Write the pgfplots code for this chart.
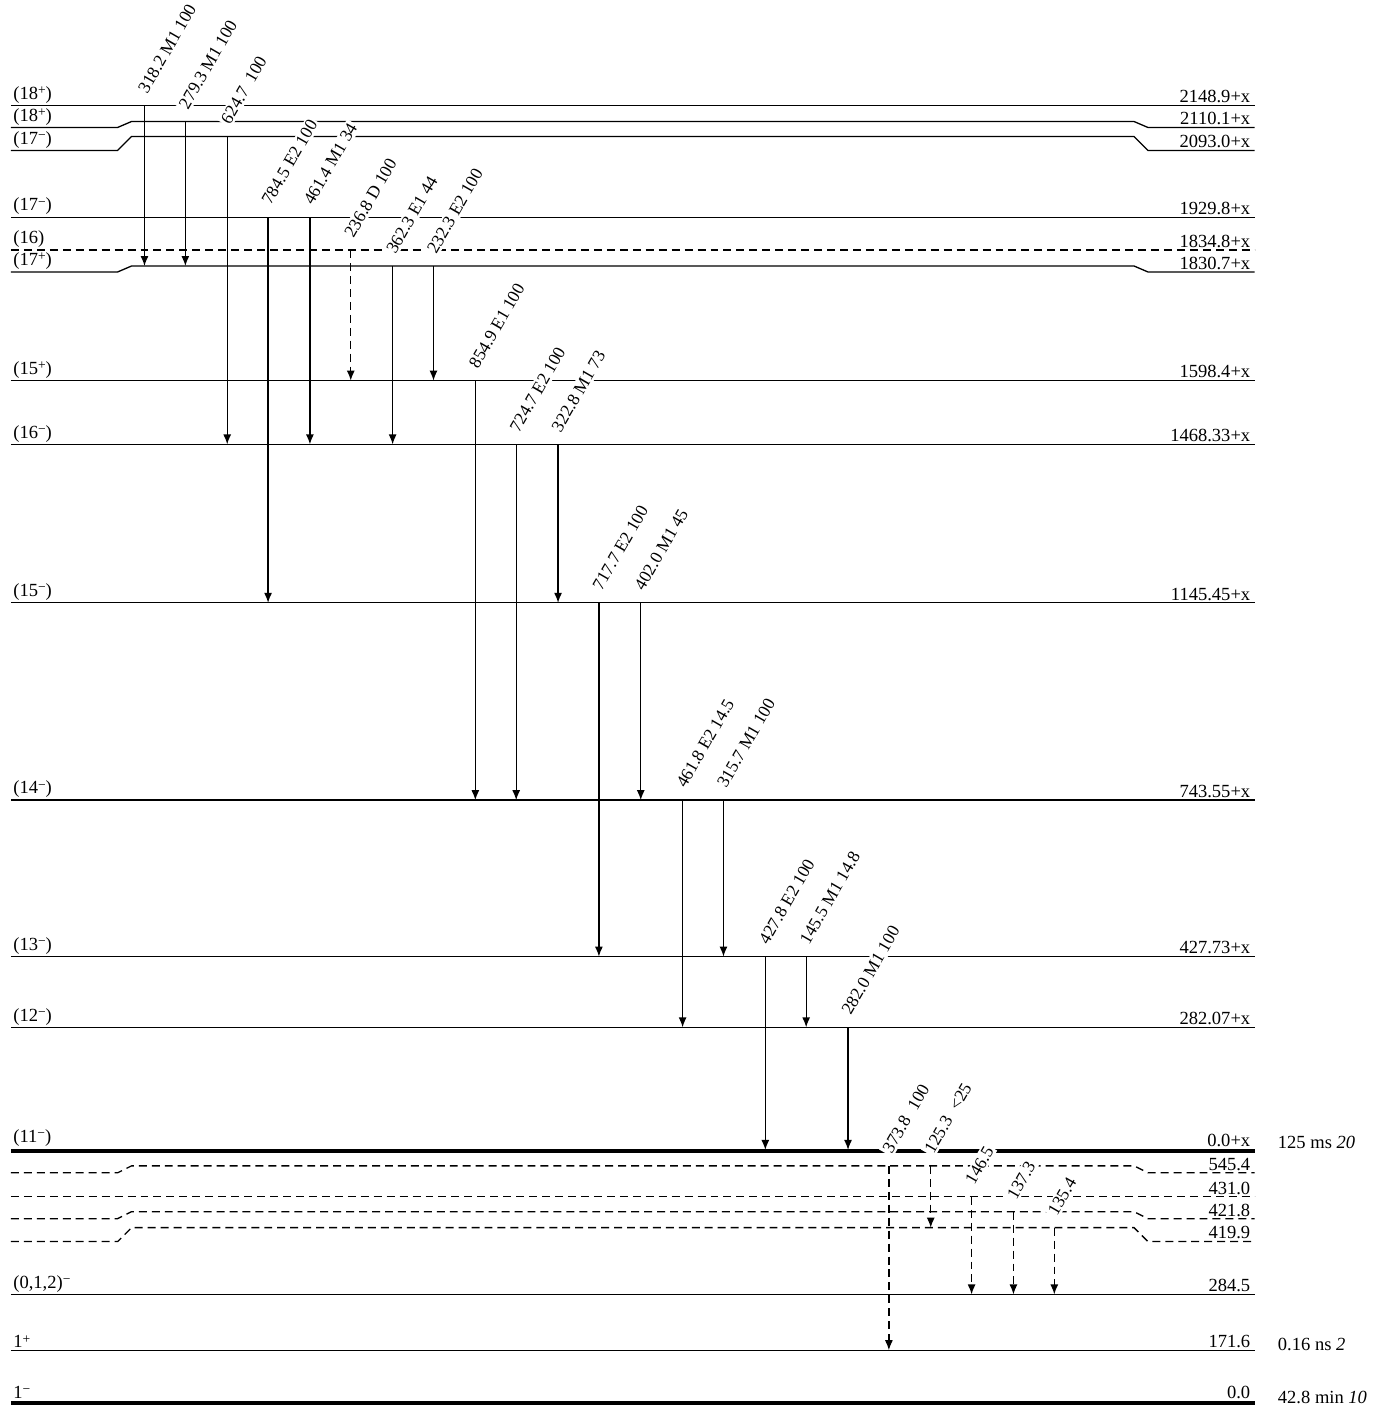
\documentclass[border=0pt]{standalone}
\usepackage{fontspec}
\setmainfont{Liberation Serif}
\usepackage{pgfplots}
\pgfplotsset{compat=1.18}
\usetikzlibrary{arrows.meta}
\newcommand{\lfont}{\fontsize{9.3}{11}\selectfont}
\newcommand{\gfont}{\fontsize{8.8}{10}\selectfont}
\newcommand{\ssup}[1]{\raisebox{0.55ex}{\fontsize{6.8}{7}\selectfont #1}}
% level with kinks: left y, mid y, right y
\newcommand{\levk}[4][]{\addplot[#1] coordinates {(11,#2) (118,#2) (132,#3) (1138,#3) (1152,#4) (1259,#4)};}
\newcommand{\lev}[2][]{\addplot[#1] coordinates {(11,#2) (1259,#2)};}
\newcommand{\rlab}[2]{\node[anchor=south east, inner sep=1pt, font=\lfont] at (1257,#1) {#2};}
\newcommand{\llab}[2]{\node[anchor=south west, inner sep=1pt, font=\lfont] at (11,#1) {#2};}
\newcommand{\glab}[3]{\node[rotate=60, anchor=south west, fill=white, inner sep=1pt, font=\gfont] at (#1+4,#2-8) {#3};}
\newcommand{\garr}[4][]{\addplot[#1, -{Latex[length=5pt,width=4pt]}] coordinates {(#2,#3) (#2,#4)};}
\begin{document}
\begin{tikzpicture}
\begin{axis}[
  scale only axis, width=695pt, height=703pt,
  xmin=0, xmax=1390, ymin=0, ymax=1406, y dir=reverse,
  hide axis, clip=false,
  every axis plot/.append style={line width=0.65pt, black},
]
\addplot[draw=none] coordinates {(0,0) (1390,1406)};
% levels
\lev{101}
\levk{123}{117}{123}
\levk{146}{132}{146}
\lev{213}
\lev[dash pattern=on 4pt off 2.5pt]{246}
\levk{268}{262}{268}
\lev{377}
\lev{441}
\lev{600}
\lev{798}
\lev{955}
\lev{1026}
\lev[line width=1.6pt]{1150}
\levk[dash pattern=on 4pt off 2.5pt]{1172}{1165}{1172}
\lev[dash pattern=on 4pt off 2.5pt]{1196}
\levk[dash pattern=on 4pt off 2.5pt]{1218}{1211}{1218}
\levk[dash pattern=on 4pt off 2.5pt]{1241}{1227}{1241}
\lev{1294}
\lev{1350}
\lev[line width=2.2pt]{1403}
% left labels
\llab{101}{(18\ssup{+})}
\llab{123}{(18\ssup{+})}
\llab{146}{(17\ssup{−})}
\llab{213}{(17\ssup{−})}
\llab{246}{(16)}
\llab{268}{(17\ssup{+})}
\llab{377}{(15\ssup{+})}
\llab{441}{(16\ssup{−})}
\llab{600}{(15\ssup{−})}
\llab{798}{(14\ssup{−})}
\llab{955}{(13\ssup{−})}
\llab{1026}{(12\ssup{−})}
\llab{1148}{(11\ssup{−})}
\llab{1294}{(0,1,2)\ssup{−}}
\llab{1350}{1\ssup{+}}
\llab{1401}{1\ssup{−}}
% right labels
\rlab{101}{2148.9+x}
\rlab{123}{2110.1+x}
\rlab{146}{2093.0+x}
\rlab{213}{1929.8+x}
\rlab{246}{1834.8+x}
\rlab{268}{1830.7+x}
\rlab{377}{1598.4+x}
\rlab{441}{1468.33+x}
\rlab{600}{1145.45+x}
\rlab{798}{743.55+x}
\rlab{955}{427.73+x}
\rlab{1026}{282.07+x}
\rlab{1148}{0.0+x}
\rlab{1172}{545.4}
\rlab{1196}{431.0}
\rlab{1218}{421.8}
\rlab{1241}{419.9}
\rlab{1294}{284.5}
\rlab{1350}{171.6}
\rlab{1401}{0.0}
% half-lives
\node[anchor=base west, inner sep=0pt, font=\lfont] at (1282,1148) {125 ms \textit{20}};
\node[anchor=base west, inner sep=0pt, font=\lfont] at (1282,1350) {0.16 ns \textit{2}};
\node[anchor=base west, inner sep=0pt, font=\lfont] at (1282,1403) {42.8 min \textit{10}};
% gamma labels
\glab{145}{101}{318.2 M1 100}
\glab{186}{117}{279.3 M1 100}
\glab{228}{132}{624.7\hspace{0.5em}100}
\glab{269}{213}{784.5 E2 100}
\glab{311}{213}{461.4 M1 34}
\glab{352}{246}{236.8 D 100}
\glab{394}{262}{362.3 E1 44}
\glab{435}{262}{232.3 E2 100}
\glab{477}{377}{854.9 E1 100}
\glab{518}{441}{724.7 E2 100}
\glab{560}{441}{322.8 M1 73}
\glab{601}{600}{717.7 E2 100}
\glab{643}{600}{402.0 M1 45}
\glab{685}{798}{461.8 E2 14.5}
\glab{726}{798}{315.7 M1 100}
\glab{768}{955}{427.8 E2 100}
\glab{809}{955}{145.5 M1 14.8}
\glab{851}{1026}{282.0 M1 100}
\glab{892}{1165}{373.8\hspace{0.6em}100}
\glab{934}{1165}{125.3\hspace{0.6em}<25}
\glab{975}{1196}{146.5}
\glab{1017}{1211}{137.3}
\glab{1058}{1227}{135.4}
% gamma arrows
\garr{145}{101}{262}
\garr{186}{117}{262}
\garr{228}{132}{441}
\garr{269}{213}{600}
\garr{311}{213}{441}
\garr[dash pattern=on 4pt off 2.5pt]{352}{246}{377}
\garr{394}{262}{441}
\garr{435}{262}{377}
\garr{477}{377}{798}
\garr{518}{441}{798}
\garr{560}{441}{600}
\garr{601}{600}{955}
\garr{643}{600}{798}
\garr{685}{798}{1026}
\garr{726}{798}{955}
\garr{768}{955}{1149}
\garr{809}{955}{1026}
\garr{851}{1026}{1149}
\garr[dash pattern=on 4pt off 2.5pt]{892}{1165}{1350}
\garr[dash pattern=on 4pt off 2.5pt]{934}{1165}{1227}
\garr[dash pattern=on 4pt off 2.5pt]{975}{1196}{1294}
\garr[dash pattern=on 4pt off 2.5pt]{1017}{1211}{1294}
\garr[dash pattern=on 4pt off 2.5pt]{1058}{1227}{1294}
\end{axis}
\end{tikzpicture}
\end{document}
